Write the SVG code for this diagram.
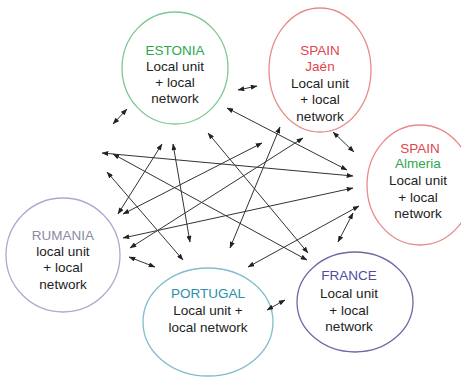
<svg xmlns="http://www.w3.org/2000/svg" width="461" height="377" viewBox="0 0 461 377">
<defs>
<marker id="ah" viewBox="0 0 8 6" refX="7.5" refY="3" markerWidth="7" markerHeight="5" markerUnits="userSpaceOnUse" orient="auto-start-reverse">
<path d="M0,0 L8,3 L0,6 Z" fill="#222"/>
</marker>
<style>
.n{fill:#fff;stroke-width:1.3}
text{font-family:"Liberation Sans",Arial,sans-serif;font-size:13.5px;text-anchor:middle;fill:#222}
text.g{fill:#2ea84e}
text.r{fill:#e0464e}
text.p{fill:#8a8aa2}
text.t{fill:#2a8faa}
text.b{fill:#4e4ea0}
.c line{stroke:#333;stroke-width:1;marker-start:url(#ah);marker-end:url(#ah)}
</style>
</defs>
<rect width="461" height="377" fill="#fff"/>
<g id="estonia">
<ellipse class="n" cx="175" cy="68" rx="53" ry="56" stroke="#7ec992"/>
<text class="g" x="175" y="55">ESTONIA</text>
<text x="175" y="71">Local unit</text>
<text x="175" y="87">+ local</text>
<text x="175" y="103">network</text>
</g>
<g id="spain-jaen">
<ellipse class="n" cx="320" cy="70" rx="51" ry="62" stroke="#e88a8a"/>
<text class="r" x="320" y="55">SPAIN</text>
<text class="r" x="320" y="71">Jaén</text>
<text x="320" y="88">Local unit</text>
<text x="320" y="104">+ local</text>
<text x="320" y="121">network</text>
</g>
<g id="spain-almeria">
<ellipse class="n" cx="420" cy="185" rx="53" ry="60" stroke="#e88a8a"/>
<text class="r" x="420" y="153">SPAIN</text>
<text class="g" x="418" y="168">Almeria</text>
<text x="418" y="185">Local unit</text>
<text x="418" y="202">+ local</text>
<text x="418" y="218">network</text>
</g>
<g id="rumania">
<ellipse class="n" cx="63" cy="255" rx="57" ry="57" stroke="#aaaad2"/>
<text class="p" x="63" y="240">RUMANIA</text>
<text x="63" y="256">local unit</text>
<text x="63" y="272">+ local</text>
<text x="63" y="289">network</text>
</g>
<g id="portugal">
<ellipse class="n" cx="208" cy="322" rx="65" ry="54" stroke="#80bccb"/>
<text class="t" x="208" y="298">PORTUGAL</text>
<text x="208" y="315">Local unit +</text>
<text x="208" y="332">local network</text>
</g>
<g id="france">
<ellipse class="n" cx="355" cy="302" rx="58" ry="50" stroke="#6a6aa6"/>
<text class="b" x="349" y="280">FRANCE</text>
<text x="349" y="298">Local unit</text>
<text x="349" y="315">+ local</text>
<text x="349" y="331">network</text>
</g>
<g class="c" id="connectors">
<line x1="113" y1="124" x2="127" y2="109"/>
<line x1="238" y1="90" x2="257" y2="86"/>
<line x1="333" y1="132" x2="354" y2="152"/>
<line x1="102" y1="153" x2="353" y2="176"/>
<line x1="113" y1="154" x2="307" y2="260"/>
<line x1="107" y1="172" x2="183" y2="260"/>
<line x1="162" y1="144" x2="118" y2="214"/>
<line x1="173" y1="144" x2="190" y2="242"/>
<line x1="262" y1="143" x2="123" y2="214"/>
<line x1="280" y1="127" x2="230" y2="248"/>
<line x1="303" y1="138" x2="130" y2="248"/>
<line x1="123" y1="238" x2="353" y2="188"/>
<line x1="208" y1="133" x2="308" y2="253"/>
<line x1="227" y1="108" x2="347" y2="170"/>
<line x1="359" y1="206" x2="248" y2="267"/>
<line x1="353" y1="213" x2="338" y2="242"/>
<line x1="129" y1="257" x2="155" y2="267"/>
<line x1="267" y1="310" x2="285" y2="300"/>
</g>
</svg>
